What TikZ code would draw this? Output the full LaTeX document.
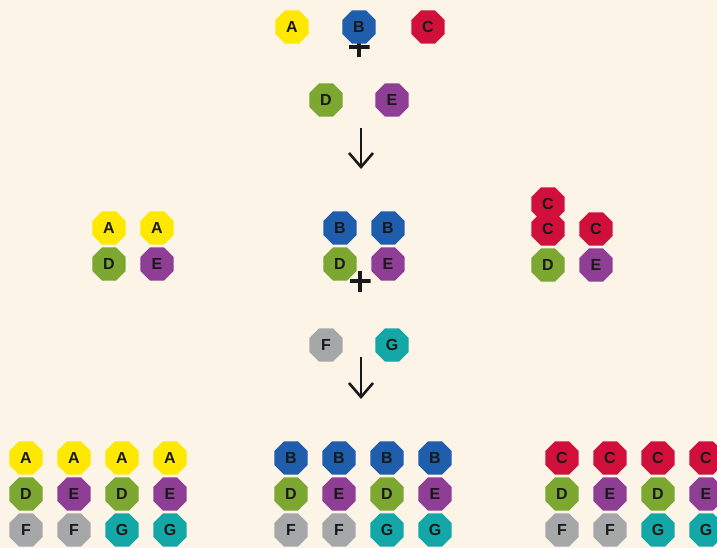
\documentclass[tikz,border=0pt]{standalone}
\usepackage{fontspec}
\setsansfont{Liberation Sans}
\usepackage{xcolor}
\usepackage{tikz}
\usetikzlibrary{arrows.meta,positioning,shapes.geometric}

\definecolor{cream}{RGB}{252,244,231}
\definecolor{unityellow}{RGB}{255,232,0}
\definecolor{unitblue}{RGB}{30,94,172}
\definecolor{unitred}{RGB}{208,16,58}
\definecolor{unitgreen}{RGB}{124,167,48}
\definecolor{unitpurple}{RGB}{142,62,148}
\definecolor{unitgrey}{RGB}{166,167,169}
\definecolor{unitteal}{RGB}{20,167,168}

\begin{document}
\begin{tikzpicture}[
      x=1pt, y=-1pt,
      node distance=36pt and 48pt, on grid,
      unit/.style={regular polygon, regular polygon sides=8, minimum size=36pt,
            inner sep=0pt, outer sep=0pt, text=black!90,
            font=\sffamily\bfseries\fontsize{16}{16}\selectfont},
      unitA/.style={unit, fill=unityellow},
      unitB/.style={unit, fill=unitblue},
      unitC/.style={unit, fill=unitred},
      unitD/.style={unit, fill=unitgreen},
      unitE/.style={unit, fill=unitpurple},
      unitF/.style={unit, fill=unitgrey},
      unitG/.style={unit, fill=unitteal},
      plus/.style={rectangle, minimum size=21pt, inner sep=0pt,
            path picture={\draw[line width=3.4pt, black!90]
                  (path picture bounding box.north) -- (path picture bounding box.south)
                  (path picture bounding box.west) -- (path picture bounding box.east);}},
      arrow/.style={-{Straight Barb[length=14pt, width=24pt]}, line width=2.6pt, black!90}
]
      \useasboundingbox (0,0) rectangle (717,548);
      \fill[cream] (0,0) rectangle (717,548);

      % first cross
      \node[plus] (plusA) at (359,47) {};
      \node[unitA] (topa) at (292,27) {A};
      \node[unitB] (topb) at (359,27) {B};
      \node[unitC] (topc) at (428,27) {C};
      \node[unitD] (topd) at (326,100) {D};
      \node[unitE] (tope) at (392,100) {E};
      \coordinate (arrAstart) at (361,128);
      \coordinate (arrAend) at (361,169);
      \draw[arrow] (arrAstart) -- (arrAend);

      % first generation
      \node[unitA] (ma1) at (109,228) {A};
      \node[unitA, right=of ma1] (ma2) {A};
      \node[unitD, below=of ma1] (md1) {D};
      \node[unitE, below=of ma2] (me1) {E};

      \node[unitB] (mb1) at (340,228) {B};
      \node[unitB, right=of mb1] (mb2) {B};
      \node[unitD, below=of mb1] (md2) {D};
      \node[unitE, below=of mb2] (me2) {E};
      \node[plus] (plusB) at (360,281) {};

      \node[unitC] (mc1) at (548,229) {C};
      \node[unitC, above=25pt of mc1] (mc0) {C};
      \node[unitC, right=of mc1] (mc2) {C};
      \node[unitD, below=of mc1] (md3) {D};
      \node[unitE, below=of mc2] (me3) {E};

      % second cross
      \node[unitF] (midf) at (326,345) {F};
      \node[unitG] (midg) at (392,345) {G};
      \coordinate (arrBstart) at (361,357);
      \coordinate (arrBend) at (361,399);
      \draw[arrow] (arrBstart) -- (arrBend);

      % second generation
      \node[unitA] (la1) at (26,458) {A};
      \node[unitA, right=of la1] (la2) {A};
      \node[unitA, right=of la2] (la3) {A};
      \node[unitA, right=of la3] (la4) {A};
      \node[unitD, below=of la1] (ld1) {D};
      \node[unitE, below=of la2] (le1) {E};
      \node[unitD, below=of la3] (ld2) {D};
      \node[unitE, below=of la4] (le2) {E};
      \node[unitF, below=of ld1] (lf1) {F};
      \node[unitF, below=of le1] (lf2) {F};
      \node[unitG, below=of ld2] (lg1) {G};
      \node[unitG, below=of le2] (lg2) {G};

      \node[unitB] (cb1) at (291,458) {B};
      \node[unitB, right=of cb1] (cb2) {B};
      \node[unitB, right=of cb2] (cb3) {B};
      \node[unitB, right=of cb3] (cb4) {B};
      \node[unitD, below=of cb1] (cd1) {D};
      \node[unitE, below=of cb2] (ce1) {E};
      \node[unitD, below=of cb3] (cd2) {D};
      \node[unitE, below=of cb4] (ce2) {E};
      \node[unitF, below=of cd1] (cf1) {F};
      \node[unitF, below=of ce1] (cf2) {F};
      \node[unitG, below=of cd2] (cg1) {G};
      \node[unitG, below=of ce2] (cg2) {G};

      \node[unitC] (rc1) at (562,458) {C};
      \node[unitC, right=of rc1] (rc2) {C};
      \node[unitC, right=of rc2] (rc3) {C};
      \node[unitC, right=of rc3] (rc4) {C};
      \node[unitD, below=of rc1] (rd1) {D};
      \node[unitE, below=of rc2] (re1) {E};
      \node[unitD, below=of rc3] (rd2) {D};
      \node[unitE, below=of rc4] (re2) {E};
      \node[unitF, below=of rd1] (rf1) {F};
      \node[unitF, below=of re1] (rf2) {F};
      \node[unitG, below=of rd2] (rg1) {G};
      \node[unitG, below=of re2] (rg2) {G};
\end{tikzpicture}
\end{document}
